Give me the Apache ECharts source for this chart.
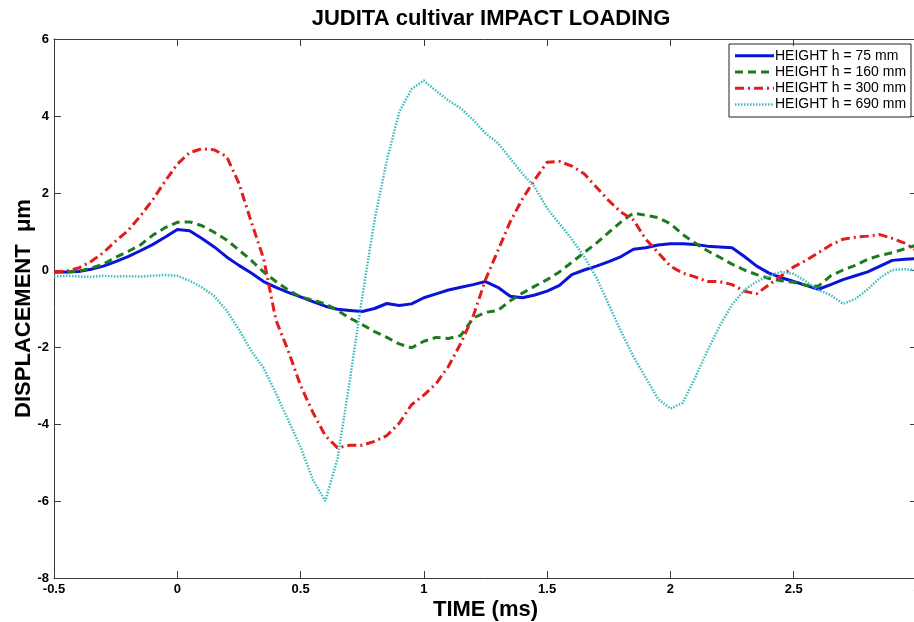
<!DOCTYPE html>
<html>
<head>
<meta charset="utf-8">
<script src="https://cdn.jsdelivr.net/npm/echarts@6/dist/echarts.min.js"></script>
<style>
html,body{margin:0;padding:0;background:#fff;}
#chart{width:914px;height:622px;}
</style>
</head>
<body>
<div id="chart"></div>
<script>
// ---- data ----
const chartTitle = 'JUDITA cultivar IMPACT LOADING';
const xName = 'TIME (ms)';
const yName = 'DISPLACEMENT  \u03bcm';
const seriesNames = ['HEIGHT h = 75 mm', 'HEIGHT h = 160 mm', 'HEIGHT h = 300 mm', 'HEIGHT h = 690 mm'];
const time = [-0.5,-0.45,-0.4,-0.35,-0.3,-0.25,-0.2,-0.15,-0.1,-0.05,0,0.05,0.1,0.15,0.2,0.25,0.3,0.35,0.4,0.45,0.5,0.55,0.6,0.65,0.7,0.75,0.8,0.85,0.9,0.95,1,1.05,1.1,1.15,1.2,1.25,1.3,1.35,1.4,1.45,1.5,1.55,1.6,1.65,1.7,1.75,1.8,1.85,1.9,1.95,2,2.05,2.1,2.15,2.2,2.25,2.3,2.35,2.4,2.45,2.5,2.55,2.6,2.65,2.7,2.75,2.8,2.85,2.9,2.95,3];
const h75 = [-0.05,-0.05,-0.04,0.02,0.10,0.22,0.35,0.50,0.66,0.85,1.05,1.02,0.82,0.60,0.34,0.12,-0.08,-0.30,-0.45,-0.58,-0.70,-0.82,-0.94,-1.02,-1.05,-1.08,-1.00,-0.87,-0.92,-0.88,-0.72,-0.62,-0.52,-0.45,-0.38,-0.30,-0.45,-0.68,-0.72,-0.65,-0.55,-0.40,-0.12,0.00,0.10,0.22,0.35,0.54,0.58,0.65,0.68,0.68,0.66,0.62,0.60,0.58,0.35,0.10,-0.08,-0.20,-0.30,-0.40,-0.50,-0.38,-0.25,-0.15,-0.05,0.10,0.25,0.28,0.30];
const h160 = [-0.05,-0.05,-0.03,0.05,0.15,0.33,0.48,0.65,0.90,1.10,1.24,1.25,1.15,0.98,0.78,0.52,0.25,-0.05,-0.30,-0.52,-0.70,-0.78,-0.88,-1.05,-1.25,-1.42,-1.60,-1.75,-1.92,-2.02,-1.85,-1.75,-1.78,-1.70,-1.25,-1.10,-1.05,-0.80,-0.60,-0.42,-0.25,-0.05,0.20,0.45,0.70,0.98,1.25,1.48,1.42,1.36,1.20,0.92,0.70,0.50,0.33,0.15,0.00,-0.12,-0.22,-0.28,-0.32,-0.40,-0.42,-0.15,0.00,0.12,0.28,0.38,0.45,0.55,0.65];
const h300 = [-0.05,-0.03,0.05,0.22,0.45,0.75,1.02,1.40,1.82,2.30,2.75,3.05,3.15,3.12,2.95,2.25,1.25,0.30,-1.30,-2.10,-3.00,-3.70,-4.30,-4.62,-4.55,-4.55,-4.45,-4.30,-3.98,-3.50,-3.25,-2.95,-2.50,-1.90,-1.20,-0.25,0.50,1.25,1.85,2.35,2.80,2.82,2.70,2.50,2.15,1.80,1.50,1.30,0.80,0.45,0.10,-0.08,-0.18,-0.30,-0.30,-0.38,-0.55,-0.62,-0.38,-0.15,0.08,0.25,0.45,0.65,0.80,0.85,0.88,0.92,0.82,0.70,0.50];
const h690 = [-0.17,-0.15,-0.17,-0.18,-0.15,-0.17,-0.16,-0.17,-0.15,-0.13,-0.15,-0.28,-0.45,-0.68,-1.05,-1.55,-2.10,-2.55,-3.20,-3.90,-4.60,-5.45,-6.00,-4.90,-2.85,-0.70,1.30,2.85,4.10,4.70,4.92,4.65,4.40,4.20,3.90,3.55,3.30,2.90,2.50,2.15,1.60,1.20,0.80,0.35,-0.20,-0.90,-1.60,-2.25,-2.80,-3.35,-3.60,-3.45,-2.80,-2.10,-1.45,-0.90,-0.52,-0.30,-0.15,-0.05,-0.10,-0.30,-0.52,-0.65,-0.88,-0.75,-0.50,-0.20,0.00,0.02,0.00];
const xTicks = {min: -0.5, max: 3, step: 0.5};
const yTicks = {min: -8, max: 6, step: 2};

// ---- styles ----
const colors = ['#0a14d8', '#1e7a1e', '#e31c1c', '#3cbcbc'];
const dashes = ['solid', [8, 5], [9, 4, 2, 4], [1.5, 1.5]];
const widths = [3, 3, 3, 2.5];
const valueSets = [h75, h160, h300, h690];

const chart = echarts.init(document.getElementById('chart'), null, {renderer: 'canvas'});
const axisColor = '#3a3a3a';
const labelStyle = {color: '#000', fontFamily: 'Arial, "Liberation Sans", sans-serif', fontWeight: 'bold', fontSize: 13};

const series = valueSets.map((vals, i) => ({
  name: seriesNames[i],
  type: 'line',
  data: time.map((t, k) => [t, vals[k]]),
  showSymbol: false,
  symbol: 'none',
  smooth: false,
  clip: true,
  animation: false,
  lineStyle: {color: colors[i], width: widths[i], type: dashes[i]},
  itemStyle: {color: colors[i]}
}));

// legend drawn as graphic
const legX = 729, legY = 44, legW = 182, rowH = 16.3;
const legendChildren = [{
  type: 'rect', shape: {x: 0, y: 0, width: legW, height: 73},
  style: {fill: '#fff', stroke: '#222', lineWidth: 1}
}];
seriesNames.forEach((n, i) => {
  const cy = 11.7 + i * rowH;
  legendChildren.push({
    type: 'line', shape: {x1: 6, y1: cy, x2: 45, y2: cy},
    style: {stroke: colors[i], lineWidth: widths[i], lineDash: dashes[i] === 'solid' ? null : dashes[i]}
  });
  legendChildren.push({
    type: 'text', x: 46, y: cy,
    style: {text: n, fill: '#000', font: '14px Arial, "Liberation Sans", sans-serif', textVerticalAlign: 'middle', verticalAlign: 'middle'}
  });
});

const option = {
  animation: false,
  backgroundColor: '#fff',
  title: {
    text: chartTitle, left: 486, top: 3, textAlign: 'center',
    textStyle: {fontFamily: 'Arial, "Liberation Sans", sans-serif', fontWeight: 'bold', fontSize: 22, color: '#000'}
  },
  grid: {left: 54, top: 39, width: 863, height: 539, containLabel: false, outerBoundsMode: 'none'},
  xAxis: [{
    type: 'value', min: xTicks.min, max: xTicks.max, interval: xTicks.step,
    position: 'bottom',
    name: xName, nameLocation: 'middle', nameGap: 21, nameMoveOverlap: false,
    nameTextStyle: {fontFamily: 'Arial, "Liberation Sans", sans-serif', fontWeight: 'bold', fontSize: 22, color: '#000'},
    axisLine: {show: true, onZero: false, lineStyle: {color: axisColor, width: 1}},
    axisTick: {show: true, inside: true, length: 7, lineStyle: {color: axisColor}},
    axisLabel: Object.assign({margin: 5, showMaxLabel: true}, labelStyle),
    splitLine: {show: false}
  }, {
    type: 'value', min: xTicks.min, max: xTicks.max, interval: xTicks.step,
    position: 'top',
    axisLine: {show: true, onZero: false, lineStyle: {color: axisColor, width: 1}},
    axisTick: {show: true, inside: true, length: 7, lineStyle: {color: axisColor}},
    axisLabel: {show: false},
    splitLine: {show: false}
  }],
  yAxis: [{
    type: 'value', min: yTicks.min, max: yTicks.max, interval: yTicks.step,
    position: 'left',
    name: yName, nameLocation: 'middle', nameGap: 19, nameRotate: 90, nameMoveOverlap: false,
    nameTextStyle: {fontFamily: 'Arial, "Liberation Sans", sans-serif', fontWeight: 'bold', fontSize: 22, color: '#000'},
    axisLine: {show: true, onZero: false, lineStyle: {color: axisColor, width: 1}},
    axisTick: {show: true, inside: true, length: 7, lineStyle: {color: axisColor}},
    axisLabel: Object.assign({margin: 5}, labelStyle),
    splitLine: {show: false}
  }, {
    type: 'value', min: yTicks.min, max: yTicks.max, interval: yTicks.step,
    position: 'right',
    axisLine: {show: true, onZero: false, lineStyle: {color: axisColor, width: 1}},
    axisTick: {show: true, inside: true, length: 7, lineStyle: {color: axisColor}},
    axisLabel: {show: false},
    splitLine: {show: false}
  }],
  series: series,
  graphic: [{type: 'group', x: legX, y: legY, z: 100, children: legendChildren}]
};
chart.setOption(option);
</script>
</body>
</html>
